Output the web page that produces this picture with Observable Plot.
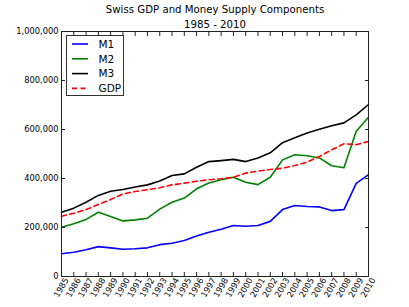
<!DOCTYPE html>
<html>
<head>
<meta charset="utf-8">
<script src="https://cdn.jsdelivr.net/npm/d3@7"></script>
<script src="https://cdn.jsdelivr.net/npm/@observablehq/plot@0.6"></script>
<style>
  html, body { margin: 0; padding: 0; background: #fff; }
  #chart { position: relative; width: 409px; height: 307px; }
</style>
</head>
<body>
<div id="chart"></div>
<script>
const titleLines = ["Swiss GDP and Money Supply Components", "1985 - 2010"];
const years = [1985,1986,1987,1988,1989,1990,1991,1992,1993,1994,1995,1996,1997,1998,1999,2000,2001,2002,2003,2004,2005,2006,2007,2008,2009,2010];
const m1  = [93000,99000,109000,122000,117000,111000,113000,117000,130000,136000,147000,165000,181000,193000,208000,205000,208000,225000,273000,290000,286000,284000,269000,273000,380000,416000];
const m2  = [201000,215000,233000,262000,245000,227000,231000,238000,275000,303000,320000,358000,382000,395000,405000,385000,375000,405000,476000,497000,493000,484000,452000,444000,593000,650000];
const m3  = [262000,279000,303000,331000,348000,355000,365000,374000,390000,412000,419000,446000,469000,473000,478000,469000,484000,505000,546000,566000,586000,601000,615000,627000,660000,702000];
const gdp = [246000,258000,273000,294000,314000,337000,347000,354000,362000,374000,381000,389000,395000,399000,405000,422000,430000,437000,442000,453000,467000,490000,517000,542000,538000,551000];
const seriesNames = ["M1", "M2", "M3", "GDP"];
const seriesColors = ["#0000ff", "#008000", "#000000", "#ff0000"];
const seriesDash = [null, null, null, "5,3.5"];
const yTicks = [0, 200000, 400000, 600000, 800000, 1000000];

const seriesValues = [m1, m2, m3, gdp];
const rows = seriesNames.map((name, i) => years.map((yr, j) => ({series: name, year: yr, value: seriesValues[i][j]})));

const font = "DejaVu Sans, sans-serif";
const tickFontSize = 8.3;

const lineMarks = rows.map((data, i) => Plot.lineY(data, {
  x: "year", y: "value",
  stroke: seriesColors[i],
  strokeWidth: 1.6,
  strokeDasharray: seriesDash[i],
  strokeLinejoin: "round"
}));

const chart = Plot.plot({
  width: 409,
  height: 307,
  marginLeft: 61,
  marginRight: 41,
  marginTop: 31,
  marginBottom: 31,
  style: {fontFamily: font, fontSize: tickFontSize + "px", background: "#fff", color: "#000"},
  x: {domain: [1985, 2010]},
  y: {domain: [0, 1000000]},
  marks: [
    ...lineMarks,
    Plot.frame({stroke: "#222", strokeWidth: 1}),
    // labels
    Plot.axisY({anchor: "left", ticks: yTicks, tickSize: 0, tickPadding: 3, tickFormat: d3.format(","), fill: "#000", label: null}),
    Plot.axisX({anchor: "bottom", ticks: years, tickSize: 0, tickPadding: 2, tickRotate: -60, tickFormat: d => String(d), fill: "#000", label: null, dx: 5}),
    // inward ticks
    Plot.axisY({anchor: "left", ticks: yTicks, tickSize: -4, tickFormat: () => "", label: null, stroke: "#222"}),
    Plot.axisY({anchor: "right", ticks: yTicks, tickSize: -4, tickFormat: () => "", label: null, stroke: "#222"}),
    Plot.axisX({anchor: "bottom", ticks: years, tickSize: -4, tickFormat: () => "", label: null, stroke: "#222"}),
    Plot.axisX({anchor: "top", ticks: years, tickSize: -4, tickFormat: () => "", label: null, stroke: "#222"}),
    // title
    Plot.text([titleLines[0]], {text: d => d, frameAnchor: "top", dy: -19, fontSize: 10.2, fill: "#000", lineAnchor: "bottom"}),
    Plot.text([titleLines[1]], {text: d => d, frameAnchor: "top", dy: -4, fontSize: 10.2, fill: "#000", lineAnchor: "bottom"})
  ]
});

// legend
const svg = d3.select(chart);
const lg = svg.append("g").attr("font-family", font).attr("font-size", "10.5px").attr("text-anchor", "start");
lg.append("rect").attr("x", 66.5).attr("y", 35.5).attr("width", 57).attr("height", 60)
  .attr("fill", "#fff").attr("stroke", "#333").attr("stroke-width", 1);
seriesNames.forEach((name, i) => {
  const cy = 44 + i * 14.8;
  lg.append("line").attr("x1", 72).attr("x2", 88).attr("y1", cy).attr("y2", cy)
    .attr("stroke", seriesColors[i]).attr("stroke-width", 1.6)
    .attr("stroke-dasharray", seriesDash[i]);
  lg.append("text").attr("x", 98.5).attr("y", cy).attr("dy", "0.36em").attr("fill", "#000")
    .attr("text-anchor", "start").text(name);
});

document.getElementById("chart").appendChild(chart);
</script>
</body>
</html>
